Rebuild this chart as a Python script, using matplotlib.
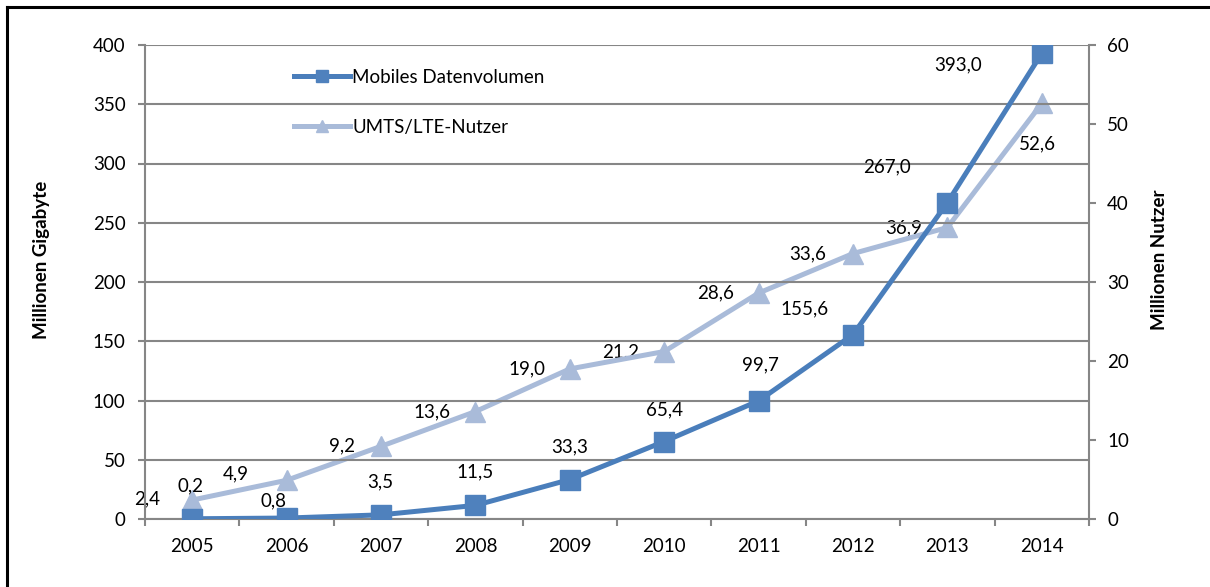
import numpy as np
import matplotlib.pyplot as plt
from matplotlib.lines import Line2D

plt.rcParams['font.family'] = ['Lato', 'DejaVu Sans']

# Daten
jahre = ['2005', '2006', '2007', '2008', '2009', '2010', '2011', '2012', '2013', '2014']
datenvolumen = [0.2, 0.8, 3.5, 11.5, 33.3, 65.4, 99.7, 155.6, 267.0, 393.0]   # Mio. GB
nutzer = [2.4, 4.9, 9.2, 13.6, 19.0, 21.2, 28.6, 33.6, 36.9, 52.6]            # Mio.

# Versatz der Beschriftungen (Pixel, wie im Original von Hand verschoben)
off_vol = [(-2, 33), (-13, 17), (-1, 33), (0, 33), (0, 33), (0, 32), (2, 36),
           (-48, 26), (-60, 36), (-84, -12)]
off_nutzer = [(-45, 1), (-51, 6), (-39, 0), (-43, 0), (-43, 0), (-44, 0),
              (-43, 0), (-45, 0), (-44, 0), (-4, -40)]

c_vol = '#4A7EBB'
c_vol_m = '#4F81BD'
c_nutzer = '#A9BBD9'
grau = '#868686'
fs = 13.5

fig = plt.figure(figsize=(12.10, 5.87), dpi=100)
ax = fig.add_axes([145/1210, 68/587, (1089-145)/1210, (519-45)/587])
ax2 = ax.twinx()

x = np.arange(len(jahre))

l1, = ax.plot(x, datenvolumen, color=c_vol, lw=3.6, marker='s', markersize=14,
              markerfacecolor=c_vol_m, markeredgecolor=c_vol_m, zorder=5,
              label='Mobiles Datenvolumen')
l2, = ax2.plot(x, nutzer, color=c_nutzer, lw=3.6, marker='^', markersize=15,
               markerfacecolor=c_nutzer, markeredgecolor=c_nutzer, zorder=4,
               label='UMTS/LTE-Nutzer')
ax.set_zorder(ax2.get_zorder() + 1)
ax.patch.set_visible(False)

for xi, v, (dx, dy) in zip(x, datenvolumen, off_vol):
    ax.annotate(f'{v:.1f}'.replace('.', ','), (xi, v), xytext=(dx, dy),
                textcoords='offset pixels', ha='center', va='center', fontsize=fs)
for xi, v, (dx, dy) in zip(x, nutzer, off_nutzer):
    ax2.annotate(f'{v:.1f}'.replace('.', ','), (xi, v), xytext=(dx, dy),
                 textcoords='offset pixels', ha='center', va='center', fontsize=fs)

ax.set_xlim(-0.5, len(jahre) - 0.5)
ax.set_ylim(0, 400)
ax2.set_ylim(0, 60)
ax.set_yticks(np.arange(0, 401, 50))
ax2.set_yticks(np.arange(0, 61, 10))
ax.set_xticks(x)
ax.set_xticklabels(jahre)
ax.set_xticks(np.arange(-0.5, len(jahre)), minor=True)

ax.yaxis.grid(True, color=grau, lw=1.5)
ax.set_axisbelow(True)

for a in (ax, ax2):
    for s in a.spines.values():
        s.set_visible(False)
ax.spines['left'].set_visible(True)
ax.spines['bottom'].set_visible(True)
ax2.spines['right'].set_visible(True)
for s in (ax.spines['left'], ax.spines['bottom'], ax2.spines['right']):
    s.set_color(grau)
    s.set_linewidth(1.5)

ax.tick_params(axis='x', which='major', length=0, pad=14, labelsize=fs)
ax.tick_params(axis='x', which='minor', length=5, width=1.5, color=grau, direction='out')
ax.tick_params(axis='y', length=5, width=1.5, color=grau, pad=9, labelsize=fs)
ax2.tick_params(axis='y', length=5, width=1.5, color=grau, pad=8, labelsize=fs)

ax.set_ylabel('Millionen Gigabyte', fontsize=13.5, fontweight='bold', labelpad=31)
ax2.set_ylabel('Millionen Nutzer', fontsize=13.5, fontweight='bold', labelpad=16)
ax.yaxis.label.set_y(0.546)
ax2.yaxis.label.set_y(0.546)

ax.legend(handles=[l1, l2], loc='upper left', bbox_to_anchor=(0.14, 0.985),
          frameon=False, fontsize=fs, handlelength=3.0, handletextpad=0.1,
          labelspacing=1.75, markerscale=0.6)

# Rahmen
fig.add_artist(Line2D([7/1210, 7/1210], [-0.01, 1 - 7/587], color='black', lw=2.2))
fig.add_artist(Line2D([7/1210, 1.01], [1 - 7/587, 1 - 7/587], color='black', lw=2.2))

fig.savefig('out.png', dpi=100)
